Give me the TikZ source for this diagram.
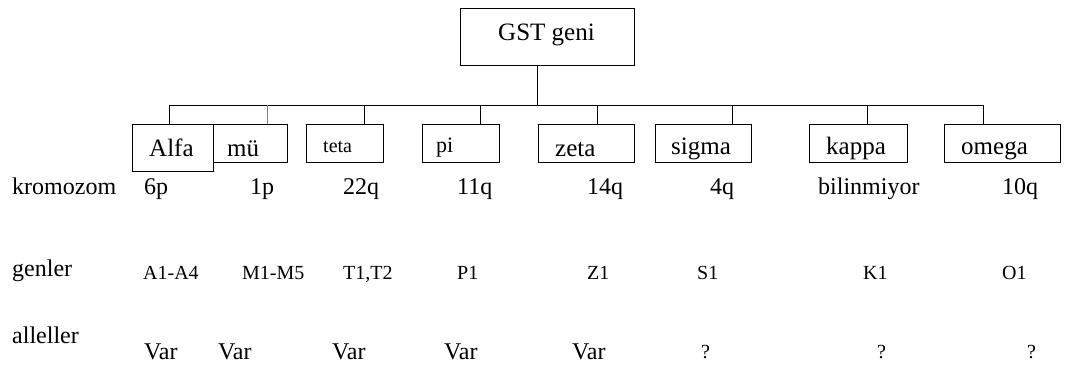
\documentclass[tikz,border=0pt]{standalone}
\usepackage{fontspec}
\setmainfont{Liberation Serif}
\begin{document}
\begin{tikzpicture}[x=1pt,y=-1pt,
  box/.style={draw, line width=0.9pt, inner sep=0pt, anchor=north west},
  conn/.style={line width=0.9pt},
  txt/.style={inner sep=0pt, anchor=base west, font=\fontsize{24}{28}\selectfont},
  small/.style={inner sep=0pt, anchor=base west, font=\fontsize{20}{24}\selectfont},
  boxtxt/.style={inner sep=0pt, anchor=base west, font=\fontsize{25}{30}\selectfont}]
\useasboundingbox (0,0) rectangle (1065,365);
% root
\node[box, minimum width=174pt, minimum height=57pt] (gst) at (460,8) {};
\node[inner sep=0pt, anchor=base west, font=\fontsize{25}{30}\selectfont] (gstt) at (498,40) {GST geni};
% child boxes
\node[box, minimum width=74pt, minimum height=38pt] (mu) at (213,124) {};
\node[box, fill=white, minimum width=81pt, minimum height=47pt] (alfa) at (132,124) {};
\node[box, minimum width=77pt, minimum height=38pt] (teta) at (306,124) {};
\node[box, minimum width=77pt, minimum height=38pt] (pi) at (422,124) {};
\node[box, minimum width=96pt, minimum height=38pt] (zeta) at (538,124) {};
\node[box, minimum width=96pt, minimum height=38pt] (sigma) at (655,124) {};
\node[box, minimum width=98pt, minimum height=38pt] (kappa) at (809,124) {};
\node[box, minimum width=116pt, minimum height=38pt] (omega) at (944,124) {};
% box labels
\node[boxtxt] (alfat) at (149,156) {Alfa};
\node[boxtxt] (mut) at (227,156) {mü};
\node[inner sep=0pt, anchor=base west, font=\fontsize{20}{24}\selectfont] (tetat) at (323,152) {teta};
\node[inner sep=0pt, anchor=base west, font=\fontsize{22}{26}\selectfont] (pit) at (436,152) {pi};
\node[boxtxt] (zetat) at (555,156) {zeta};
\node[boxtxt] (sigmat) at (671,154) {sigma};
\node[boxtxt] (kappat) at (826,154) {kappa};
\node[boxtxt] (omegat) at (961,154) {omega};
% connectors
\coordinate (j0) at (537,105);
\coordinate (dA) at (169,105);
\coordinate (dM) at (267,105);
\coordinate (dT) at (364,105);
\coordinate (dP) at (480,105);
\coordinate (dZ) at (597,105);
\coordinate (dS) at (732,105);
\coordinate (dK) at (867,105);
\coordinate (dO) at (983,105);
\draw[conn] (j0 |- gst.south) -- (j0);
\draw[conn] (dA) -- (dO);
\draw[conn] (dA) -- (dA |- alfa.north);
\draw[conn, gray] (dM) -- (dM |- mu.north);
\draw[conn] (dT) -- (dT |- teta.north);
\draw[conn] (dP) -- (dP |- pi.north);
\draw[conn] (dZ) -- (dZ |- zeta.north);
\draw[conn] (dS) -- (dS |- sigma.north);
\draw[conn] (dK) -- (dK |- kappa.north);
\draw[conn] (dO) -- (dO |- omega.north);
% row labels
\node[txt] (kro) at (12,194) {kromozom};
\node[txt] (gen) at (12,276) {genler};
\node[txt] (all) at (12,343) {alleller};
% kromozom row
\node[txt] (k1) at (144,194) {6p};
\node[txt] (k2) at (250,194) {1p};
\node[txt] (k3) at (343,194) {22q};
\node[txt] (k4) at (457,194) {11q};
\node[txt] (k5) at (587,194) {14q};
\node[txt] (k6) at (710,194) {4q};
\node[txt] (k7) at (818,194) {bilinmiyor};
\node[txt] (k8) at (1002,194) {10q};
% genler row
\node[small] (g1) at (143,279) {A1-A4};
\node[small] (g2) at (242,279) {M1-M5};
\node[small] (g3) at (343,279) {T1,T2};
\node[small] (g4) at (457,279) {P1};
\node[small] (g5) at (587,279) {Z1};
\node[small] (g6) at (697,279) {S1};
\node[small] (g7) at (863,279) {K1};
\node[small] (g8) at (1002,279) {O1};
% alleller row
\node[txt] (a1) at (144,359) {Var};
\node[txt] (a2) at (218,359) {Var};
\node[txt] (a3) at (332,359) {Var};
\node[txt] (a4) at (444,359) {Var};
\node[txt] (a5) at (572,359) {Var};
\node[small] (a6) at (701,358) {?};
\node[small] (a7) at (877,358) {?};
\node[small] (a8) at (1027,358) {?};
\end{tikzpicture}
\end{document}
